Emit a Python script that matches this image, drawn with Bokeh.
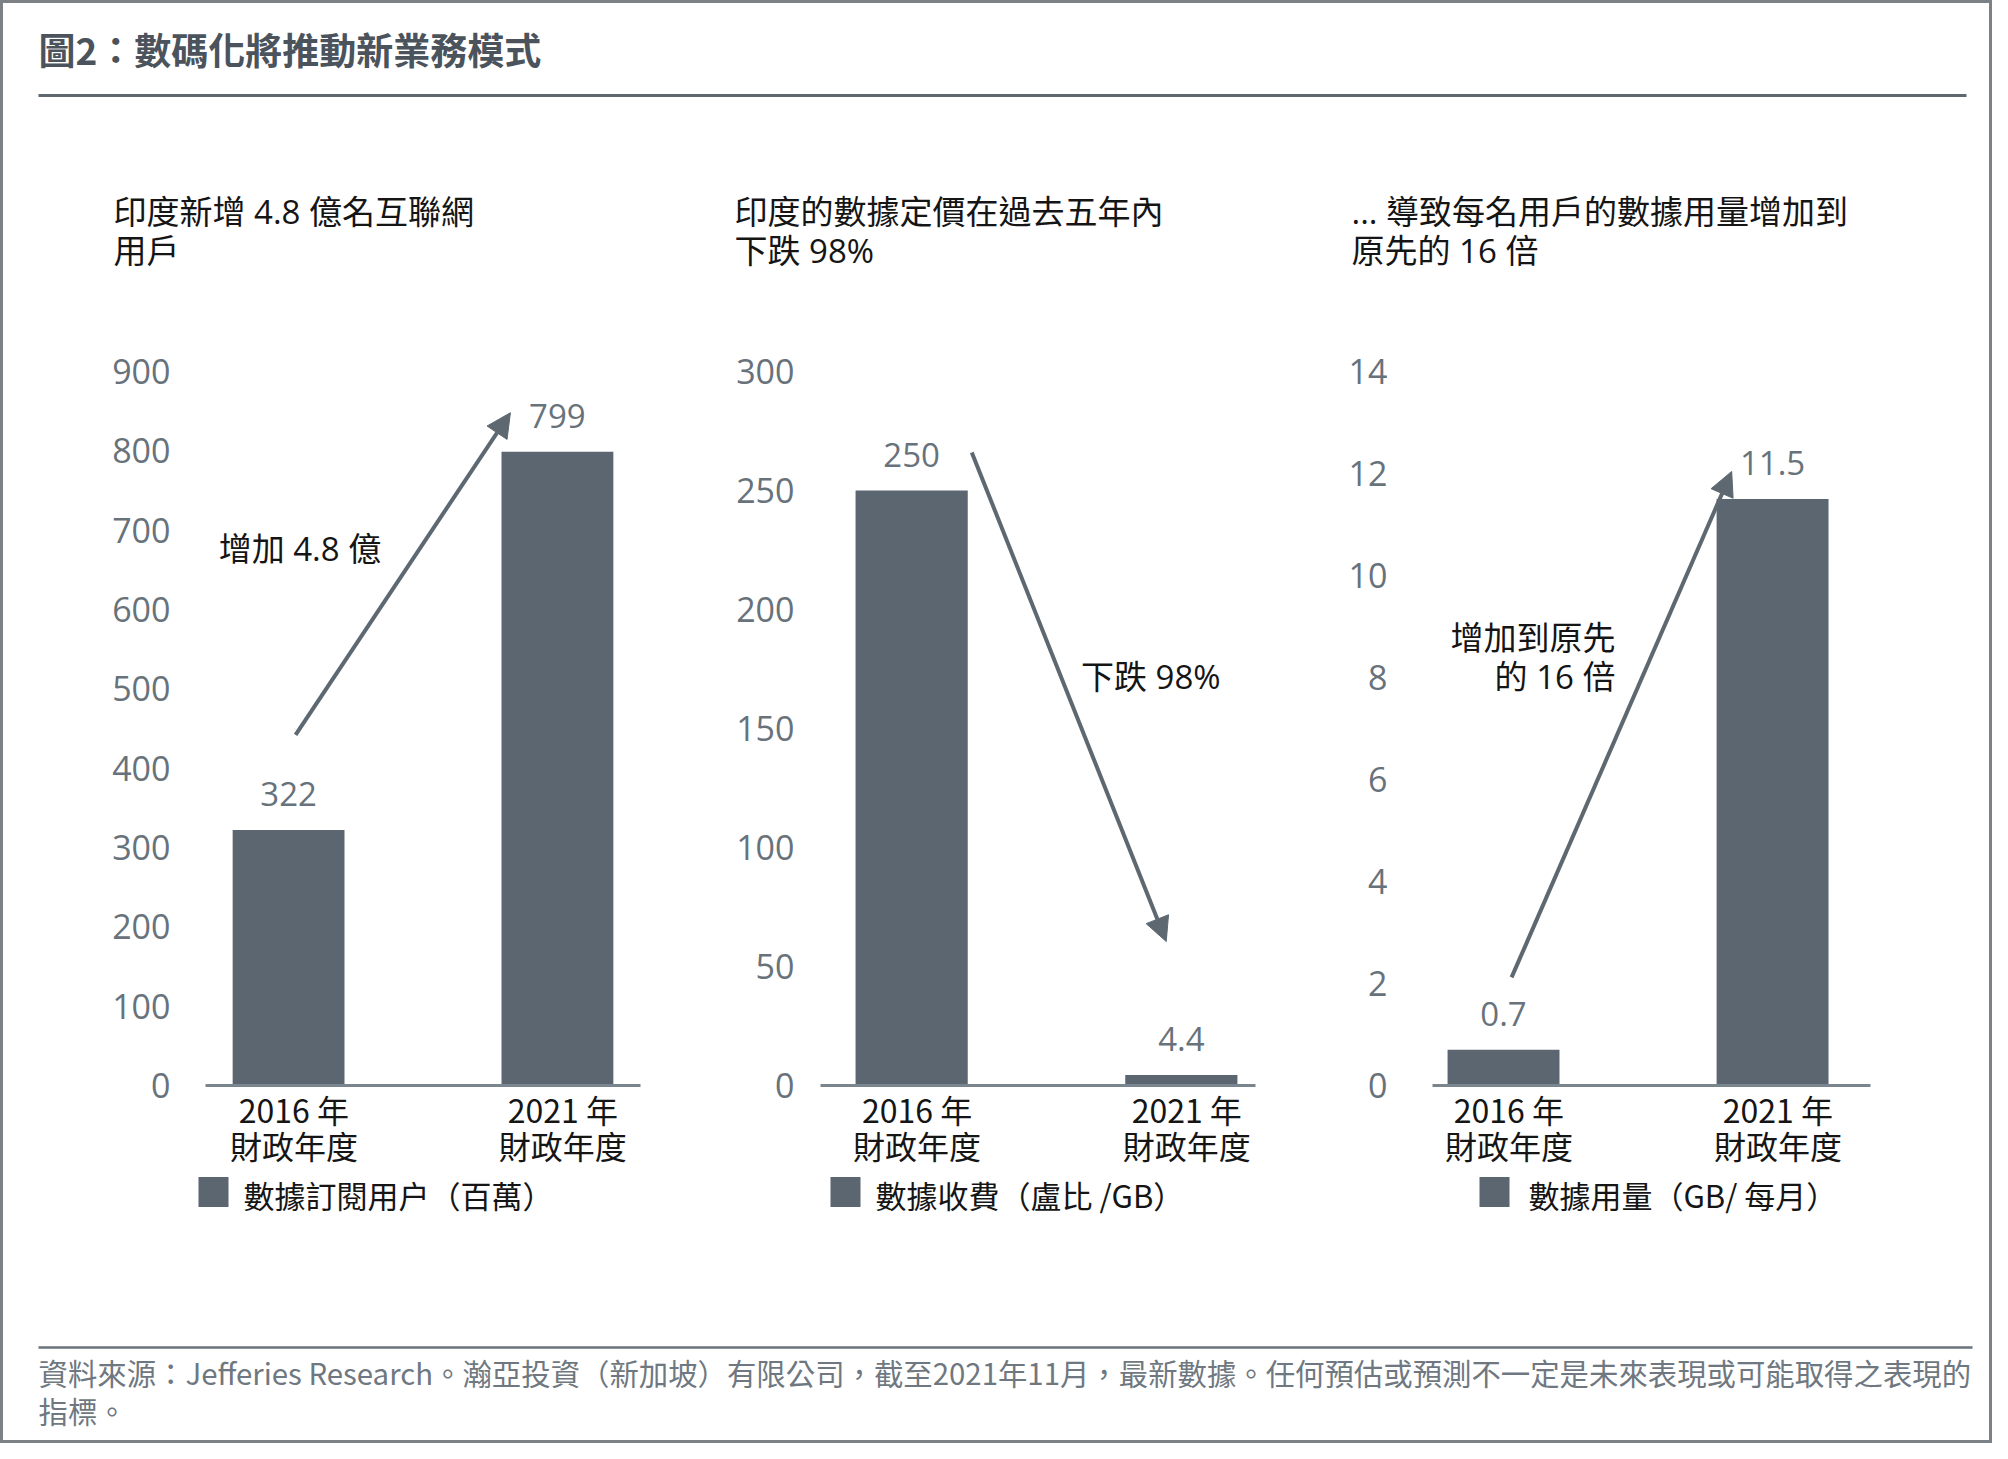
from bokeh.plotting import figure
from bokeh.models import Range1d, FixedTicker, Arrow, NormalHead
from bokeh.layouts import column, row
from bokeh.embed import file_html
from bokeh.resources import INLINE
from bokeh.core.properties import value

# ---------------- data ----------------
TITLE = "圖2：數碼化將推動新業務模式"
CATEGORIES = ["2016 年\n財政年度", "2021 年\n財政年度"]

subscribers = [322, 799]          # 數據訂閱用户（百萬）
price = [250, 4.4]                # 數據收費（盧比 /GB）
usage = [0.7, 11.5]               # 數據用量（GB/ 每月）

ticks_subscribers = [0, 100, 200, 300, 400, 500, 600, 700, 800, 900]
ticks_price = [0, 50, 100, 150, 200, 250, 300]
ticks_usage = [0, 2, 4, 6, 8, 10, 12, 14]

subtitles = [
    "印度新增 4.8 億名互聯網\n用戶",
    "印度的數據定價在過去五年內\n下跌 98%",
    "... 導致每名用戶的數據用量增加到\n原先的 16 倍",
]
legend_labels = ["數據訂閱用户（百萬）", "數據收費（盧比 /GB）", "數據用量（GB/ 每月）"]
notes = ["增加 4.8 億", "下跌 98%", "增加到原先\n的 16 倍"]
FOOTER = [
    "資料來源：Jefferies Research。瀚亞投資（新加坡）有限公司，截至2021年11月，最新數據。任何預估或預測不一定是未來表現或可能取得之表現的",
    "指標。",
]

# ---------------- style ----------------
BAR = "#5b6670"
TICK = "#68727b"
ARROW = "#5d6871"
AXIS = "#7b858e"
BLACK = "#151515"
CJK = "Noto Sans CJK TC"
MIX = "Open Sans, Noto Sans CJK TC"
BAR_W = 0.416
LABEL_SHIFT = 0.02
W_TOTAL = 1986
PANEL_H = 830


def panel(vals, yticks, width, mb_left, mb_right, x_lo, x_hi, standoff,
          arrow, note, note_pos, note_align):
    xs = list(range(len(vals)))
    p = figure(width=width, height=PANEL_H, x_range=Range1d(x_lo, x_hi),
               y_range=Range1d(yticks[0], yticks[-1]),
               min_border_left=mb_left, min_border_right=mb_right,
               min_border_top=30, min_border_bottom=86,
               toolbar_location=None, output_backend="svg",
               outline_line_color=None, background_fill_color="white",
               border_fill_color="white")
    p.grid.visible = False

    p.vbar(x=xs, top=vals, width=BAR_W, bottom=0, fill_color=BAR, line_color=None)

    p.text(x=xs, y=vals, text=[f"{v:g}" for v in vals], y_offset=-36,
           text_align="center", text_baseline="middle",
           text_font=value("Open Sans"), text_font_size="33px", text_color=TICK)

    # y axis: labels only
    p.yaxis.ticker = FixedTicker(ticks=yticks)
    p.yaxis.axis_line_color = None
    p.yaxis.major_tick_line_color = None
    p.yaxis.minor_tick_line_color = None
    p.yaxis.major_tick_out = 0
    p.yaxis.major_tick_in = 0
    p.yaxis.major_label_standoff = standoff
    p.yaxis.major_label_text_font = "Open Sans"
    p.yaxis.major_label_text_font_size = "34px"
    p.yaxis.major_label_text_color = TICK

    # x axis: baseline + two-line category labels
    tick_pos = [x + LABEL_SHIFT for x in xs]
    p.xaxis.ticker = FixedTicker(ticks=tick_pos)
    p.xaxis.major_label_overrides = {t: c for t, c in zip(tick_pos, CATEGORIES)}
    p.xaxis.axis_line_color = AXIS
    p.xaxis.axis_line_width = 3
    p.xaxis.major_tick_line_color = None
    p.xaxis.minor_tick_line_color = None
    p.xaxis.major_tick_out = 0
    p.xaxis.major_tick_in = 0
    p.xaxis.major_label_standoff = 0
    p.xaxis.major_label_text_font = CJK
    p.xaxis.major_label_text_font_size = "32px"
    p.xaxis.major_label_text_color = BLACK
    p.xaxis.major_label_text_line_height = 0.786

    (x0, y0), (x1, y1) = arrow
    p.add_layout(Arrow(end=NormalHead(size=24, fill_color=ARROW, line_color=ARROW),
                       x_start=x0, y_start=y0, x_end=x1, y_end=y1,
                       line_color=ARROW, line_width=4))

    p.text(x=[note_pos[0]], y=[note_pos[1]], text=[note], text_align=note_align,
           text_baseline="middle", text_font=value(MIX), text_font_size="33px",
           text_color=BLACK, text_line_height=0.87)
    return p


p1 = panel(subscribers, ticks_subscribers, 727, 202, 90, -0.309, 1.309, 35,
           ((0.026, 442), (0.825, 848)), notes[0], (-0.26, 677), "left")
p2 = panel(price, ticks_price, 600, 90, 75, -0.338, 1.275, 26,
           ((0.223, 266), (0.944, 60.5)), notes[1], (0.628, 171.8), "left")
p3 = panel(usage, ticks_usage, 659, 102, 119, -0.264, 1.364, 45,
           ((0.03, 2.12), (0.848, 12.04)), notes[2], (0.416, 8.41), "right")


def strip_fig(h):
    f = figure(width=W_TOTAL, height=h, x_range=Range1d(0, W_TOTAL), y_range=Range1d(h, 0),
               x_axis_type=None, y_axis_type=None, toolbar_location=None,
               output_backend="svg", min_border=0, outline_line_color=None)
    return f


# ---------------- header ----------------
HDR_H = 338
hdr = strip_fig(HDR_H)
hdr.text(x=[35], y=[45], text=[TITLE], text_font=value(CJK), text_font_style="bold",
         text_font_size="37px", text_color="#4b535c", text_baseline="middle")
hdr.segment(x0=[35], y0=[92], x1=[1963], y1=[92], line_color="#5f6870", line_width=3)
hdr.text(x=[110, 731, 1348], y=[227.5] * 3, text=subtitles, text_font=value(MIX),
         text_font_size="33px", text_color=BLACK, text_baseline="middle",
         text_line_height=0.87)

# ---------------- legend strip (one key per panel) ----------------
LEG_H = 64
leg = strip_fig(LEG_H)
leg.rect(x=[210, 842, 1491], y=[20.5] * 3, width=30, height=30,
         fill_color=BAR, line_color=None)
leg.text(x=[240, 872, 1525], y=[0] * 3, text=legend_labels, text_font=value(CJK),
         text_font_size="31px", text_color=BLACK, text_baseline="top")

# ---------------- footer ----------------
FTR_H = 205
ftr = strip_fig(FTR_H)
ftr.segment(x0=[35], y0=[112], x1=[1969], y1=[112], line_color="#6a737b", line_width=2.5)
ftr.text(x=[35, 35], y=[136, 174], text=FOOTER, text_font=value(CJK),
         text_font_size="29.4px", text_color="#6f7880", text_baseline="middle")

layout = column(hdr, row(p1, p2, p3), leg, ftr,
                styles={"border": "3px solid #7c8186"})

open("out.html", "w").write(file_html(layout, INLINE))
